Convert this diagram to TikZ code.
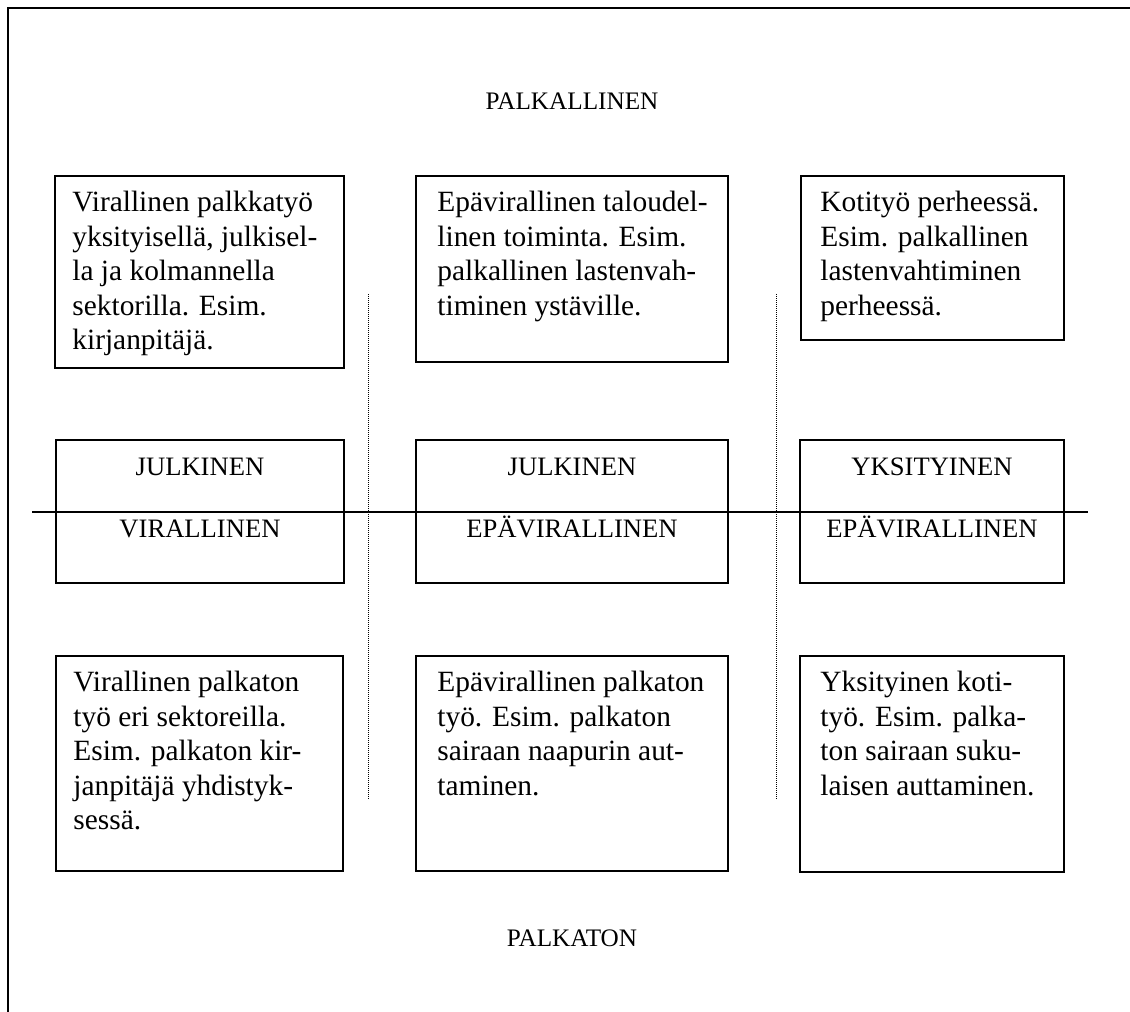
\documentclass[tikz,border=0pt]{standalone}
\usepackage{fontspec}
\setmainfont{Liberation Serif}
\begin{document}
\begin{tikzpicture}[x=0.5pt,y=-0.5pt,
  cellbox/.style={draw,line width=1pt,inner sep=0pt,outer sep=0pt,anchor=north west},
  celltext/.style={inner sep=0pt,anchor=north west,align=left,xshift=8.5pt,yshift=-7.5pt,
    font=\fontsize{14.7}{17.25}\selectfont},
  midtext/.style={inner sep=0pt,anchor=base,font=\fontsize{13.3}{16}\selectfont},
  headtext/.style={inner sep=0pt,anchor=base,font=\fontsize{12.6}{15}\selectfont},
  axisline/.style={line width=0.8pt},
  divider/.style={line width=0.5pt,dash pattern=on 0.5pt off 0.5pt},
  frameline/.style={line width=1.3pt}]
\useasboundingbox (0,0) rectangle (1130,1012);
% frame
\coordinate (f1) at (8,1020);
\coordinate (f2) at (8,8);
\coordinate (f3) at (1140,8);
\draw[frameline] (f1) -- (f2) -- (f3);
% headings
\node[headtext] (top) at (572,109) {PALKALLINEN};
\node[headtext] (bot) at (572,946) {PALKATON};
% top row
\node[cellbox,minimum width=144.5pt,minimum height=96pt] (b11) at (55,176) {};
\node[cellbox,minimum width=156pt,minimum height=93pt] (b12) at (416,176) {};
\node[cellbox,minimum width=131.5pt,minimum height=82pt] (b13) at (801,176) {};
\node[celltext] (t11) at (b11.north west) {Virallinen palkkatyö\\yksityisellä, julkisel-\\la ja kolmannella\\sektorilla. Esim.\\kirjanpitäjä.};
\node[celltext,xshift=2pt] (t12) at (b12.north west) {Epävirallinen taloudel-\\linen toiminta. Esim.\\palkallinen lastenvah-\\timinen ystäville.};
\node[celltext,xshift=1pt] (t13) at (b13.north west) {Kotityö perheessä.\\Esim. palkallinen\\lastenvahtiminen\\perheessä.};
% middle row
\node[cellbox,minimum width=144pt,minimum height=71.5pt] (m1) at (56,440) {};
\node[cellbox,minimum width=156pt,minimum height=71.5pt] (m2) at (416,440) {};
\node[cellbox,minimum width=132pt,minimum height=71.5pt] (m3) at (800,440) {};
\node[midtext] (m1a) at (200,475) {JULKINEN};
\node[midtext] (m1b) at (200,537) {VIRALLINEN};
\node[midtext] (m2a) at (572,475) {JULKINEN};
\node[midtext] (m2b) at (572,537) {EPÄVIRALLINEN};
\node[midtext] (m3a) at (932,475) {YKSITYINEN};
\node[midtext] (m3b) at (932,537) {EPÄVIRALLINEN};
% bottom row
\node[cellbox,minimum width=143.5pt,minimum height=107.5pt] (b31) at (56,656) {};
\node[cellbox,minimum width=156pt,minimum height=107.5pt] (b32) at (416,656) {};
\node[cellbox,minimum width=132pt,minimum height=108pt] (b33) at (800,656) {};
\node[celltext] (t31) at (b31.north west) {Virallinen palkaton\\työ eri sektoreilla.\\Esim. palkaton kir-\\janpitäjä yhdistyk-\\sessä.};
\node[celltext,xshift=2pt] (t32) at (b32.north west) {Epävirallinen palkaton\\työ. Esim. palkaton\\sairaan naapurin aut-\\taminen.};
\node[celltext,xshift=1.5pt] (t33) at (b33.north west) {Yksityinen koti-\\työ. Esim. palka-\\ton sairaan suku-\\laisen auttaminen.};
% axis line
\coordinate (hl) at (32,512);
\coordinate (hr) at (1088,512);
\draw[axisline] (hl) -- (hr);
% dotted dividers
\coordinate (d1t) at (368,294);
\coordinate (d1b) at (368,800);
\coordinate (d2t) at (776,294);
\coordinate (d2b) at (776,800);
\draw[divider] (d1t) -- (d1b);
\draw[divider] (d2t) -- (d2b);
\end{tikzpicture}
\end{document}
